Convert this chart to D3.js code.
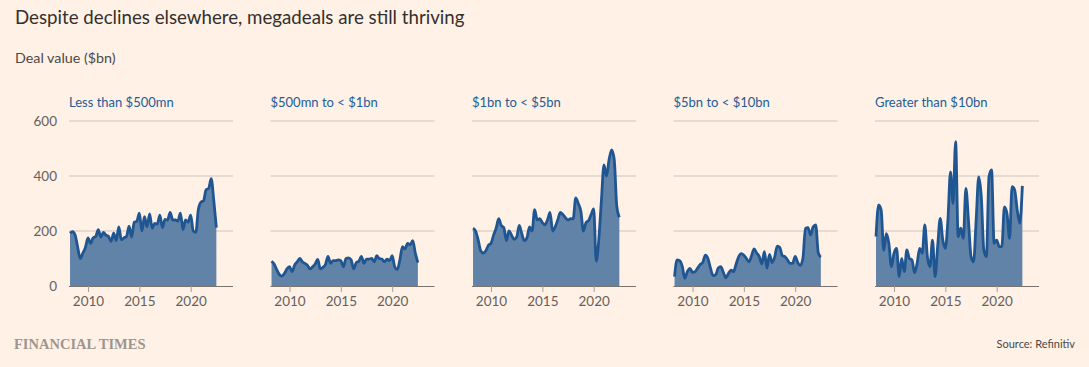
<!DOCTYPE html>
<html>
<head>
<meta charset="utf-8">
<script src="https://cdn.jsdelivr.net/npm/d3@7"></script>
<style>
  html, body { margin: 0; padding: 0; background: #fff1e5; }
  svg { display: block; }
  text { font-family: "Lato", "Open Sans", sans-serif; }
</style>
</head>
<body>
<svg id="chart" width="1089" height="367"></svg>
<script>
// ---- data (quarterly deal value, $bn, Q2 2008 .. Q2 2022) ----
const startYear = 2008.25;
const categories = ["Less than $500mn", "$500mn to < $1bn", "$1bn to < $5bn", "$5bn to < $10bn", "Greater than $10bn"];
const lessThan500mn = [192,198,185,140,100,120,140,175,155,175,180,205,178,195,185,180,162,192,165,215,168,175,180,218,178,232,235,265,200,252,215,262,210,228,225,258,212,242,240,268,240,240,236,265,205,240,232,258,200,195,280,305,310,350,355,390,310,212];
const from500mnTo1bn = [90,80,60,42,36,45,62,70,52,76,88,100,88,82,75,62,70,80,97,62,68,78,108,82,92,92,95,92,70,100,102,95,62,85,90,108,82,98,98,100,88,110,100,98,88,98,92,110,70,60,95,143,135,155,150,165,120,85];
const from1bnTo5bn = [210,200,168,128,120,128,148,155,185,210,245,220,212,165,200,185,170,178,220,190,165,175,215,200,278,240,245,230,222,240,268,200,215,240,268,260,248,240,245,244,320,300,272,200,230,238,260,280,90,170,310,440,400,460,495,460,290,250];
const from5bnTo10bn = [34,95,92,72,28,52,64,50,52,65,78,86,112,100,65,38,40,65,70,50,30,45,58,52,80,107,118,112,100,88,110,135,120,107,80,125,65,115,85,105,145,140,110,107,95,82,82,108,85,75,100,210,212,185,215,222,120,105];
const greaterThan10bn = [180,295,276,130,190,155,70,119,137,34,100,52,131,100,95,48,82,137,119,222,107,70,167,34,143,246,167,137,240,415,300,525,179,210,173,355,240,107,88,240,397,325,130,107,397,422,155,167,143,143,288,264,173,361,349,276,228,364];
const seriesValues = [lessThan500mn, from500mnTo1bn, from1bnTo5bn, from5bnTo10bn, greaterThan10bn];
const yTicks = [0, 200, 400, 600];
const xTicks = [2010, 2015, 2020];

// ---- layout ----
const svg = d3.select("#chart");
svg.append("rect").attr("width", 1089).attr("height", 367).attr("fill", "#fff1e5");

const panelLeft0 = 69, panelStep = 201.5, panelW = 164;
const plotTop = 121, plotBottom = 286;

const y = d3.scaleLinear().domain([0, 600]).range([plotBottom, plotTop]);

svg.append("text").attr("x", 15).attr("y", 24)
  .style("font-size", "18.7px").attr("fill", "#33302e")
  .text("Despite declines elsewhere, megadeals are still thriving");
svg.append("text").attr("x", 15).attr("y", 63)
  .style("font-size", "14.3px").attr("fill", "#4d4845")
  .text("Deal value ($bn)");

categories.forEach((cat, k) => {
  const left = panelLeft0 + k * panelStep;
  const g = svg.append("g").attr("transform", `translate(${left},0)`);
  const x = d3.scaleLinear().domain([2008.15, 2024.12]).range([0, panelW]);

  // gridlines
  g.selectAll("line.grid").data(yTicks.filter(d => d > 0)).join("line")
    .attr("class", "grid")
    .attr("x1", 0).attr("x2", panelW)
    .attr("y1", d => y(d)).attr("y2", d => y(d))
    .attr("stroke", "#cec5bc").attr("stroke-width", 1);

  const data = seriesValues[k].map((v, i) => ({ t: startYear + i / 4, v }));
  const area = d3.area().x(d => x(d.t)).y0(y(0)).y1(d => y(d.v)).curve(d3.curveMonotoneX);
  const line = d3.line().x(d => x(d.t)).y(d => y(d.v)).curve(d3.curveMonotoneX);
  g.append("path").datum(data).attr("d", area).attr("fill", "#6283a8");
  g.append("path").datum(data).attr("d", line).attr("fill", "none")
    .attr("stroke", "#1f5692").attr("stroke-width", 2.8).attr("stroke-linejoin", "round");

  // x axis
  const xAxis = d3.axisBottom(x).tickValues(xTicks).tickFormat(d3.format("d")).tickSize(6).tickPadding(4);
  const ax = g.append("g").attr("transform", `translate(0,${plotBottom})`).call(xAxis);
  ax.select(".domain").attr("stroke", "#7a726c").attr("d", `M0,0.5H${panelW}`);
  ax.selectAll(".tick line").attr("stroke", "#a69d95");
  ax.selectAll(".tick text").attr("fill", "#66605c").style("font-size", "13.5px")
    .style("font-family", "Lato, sans-serif");

  // panel title
  g.append("text").attr("x", 0).attr("y", 107)
    .style("font-size", "13px").attr("fill", "#235c98").text(cat);

  if (k === 0) {
    const yAxis = d3.axisLeft(y).tickValues(yTicks).tickSize(0).tickPadding(12);
    const ay = g.append("g").call(yAxis);
    ay.select(".domain").remove();
    ay.selectAll(".tick text").attr("fill", "#66605c").style("font-size", "13.5px")
      .style("font-family", "Lato, sans-serif");
  }
});

svg.append("text").attr("x", 14).attr("y", 349)
  .style("font-family", "'Liberation Serif', 'DejaVu Serif', serif").style("font-size", "14.5px")
  .style("font-weight", "bold").attr("fill", "#9e958e").text("FINANCIAL TIMES");
svg.append("text").attr("x", 1075).attr("y", 348).attr("text-anchor", "end")
  .style("font-size", "11px").attr("fill", "#4d4845").text("Source: Refinitiv");
</script>
</body>
</html>
